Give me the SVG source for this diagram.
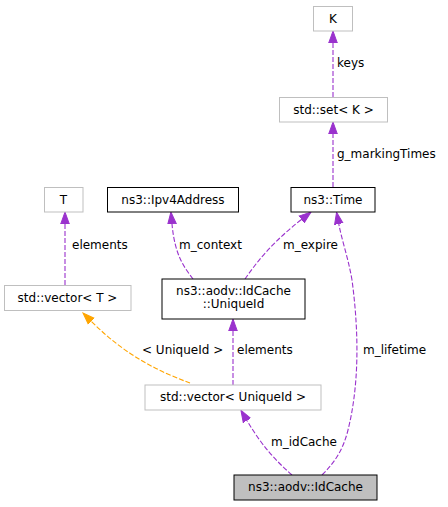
<svg xmlns="http://www.w3.org/2000/svg" width="448" height="507" viewBox="0 0 448 507">
<style>
text{font-family:"DejaVu Sans","Liberation Sans",sans-serif;font-size:12px;fill:#000}
.n text{text-anchor:middle}
.g{fill:#fff;stroke:#bfbfbf;stroke-width:1}
.b{fill:#fff;stroke:#000;stroke-width:1}
.e{fill:none;stroke:#9a32cd;stroke-width:1.1;stroke-dasharray:5,2}
.o{fill:none;stroke:#ffa500;stroke-width:1.1;stroke-dasharray:5,2}
</style>
<defs>
<marker id="ap" markerUnits="userSpaceOnUse" markerWidth="13" markerHeight="10" refX="0" refY="5" orient="auto" viewBox="0 0 13 10"><path d="M0,0.7 L12,5 L0,9.3 z" fill="#9a32cd" stroke="#9a32cd"/></marker>
<marker id="ao" markerUnits="userSpaceOnUse" markerWidth="13" markerHeight="10" refX="0" refY="5" orient="auto" viewBox="0 0 13 10"><path d="M0,0.7 L12,5 L0,9.3 z" fill="#ffa500" stroke="#ffa500"/></marker>
</defs>
<rect width="448" height="507" fill="#fff"/>
<g id="edges">
<path class="e" marker-end="url(#ap)" d="M333,97 L333,43"/>
<path class="e" marker-end="url(#ap)" d="M333,187 L333,134"/>
<path class="e" marker-end="url(#ap)" d="M65,285 L65,224"/>
<path class="e" marker-end="url(#ap)" d="M193,279 C185,268 175,257 172,224"/>
<path class="e" marker-end="url(#ap)" d="M245,279 C258,260 274,241 301.5,219.5"/>
<path class="e" marker-end="url(#ap)" d="M322,475 C335,462 343,450 348,430 C358,390 360,340 352,280 C348,257 342,241 338.8,224"/>
<path class="e" marker-end="url(#ap)" d="M233,385 L233,331"/>
<path class="o" marker-end="url(#ao)" d="M190,383 C160,372 126,356 91.5,321.5"/>
<path class="e" marker-end="url(#ap)" d="M292,475 C275,460 262,446 247,420.5"/>
<text x="337" y="67">keys</text>
<text x="337" y="158">g_markingTimes</text>
<text x="72" y="249">elements</text>
<text x="179" y="249">m_context</text>
<text x="283" y="249">m_expire</text>
<text x="142" y="354">&lt; UniqueId &gt;</text>
<text x="237" y="354">elements</text>
<text x="363" y="354">m_lifetime</text>
<text x="271" y="446">m_idCache</text>
</g>
<g id="K" class="n"><rect class="g" x="313.5" y="6.5" width="39" height="24.5"/><text x="333" y="23">K</text></g>
<g id="stdset" class="n"><rect class="g" x="279.5" y="97.5" width="108" height="24.5"/><text x="333.5" y="114">std::set&lt; K &gt;</text></g>
<g id="Time" class="n"><rect class="b" x="291" y="187.5" width="84" height="24.5"/><text x="333" y="204">ns3::Time</text></g>
<g id="Ipv4Address" class="n"><rect class="b" x="107.5" y="187.5" width="131" height="24.5"/><text x="173" y="204">ns3::Ipv4Address</text></g>
<g id="T" class="n"><rect class="g" x="44.5" y="187.5" width="38.5" height="24.5"/><text x="63.5" y="204">T</text></g>
<g id="vectorT" class="n"><rect class="g" x="4.5" y="285.5" width="126.5" height="25"/><text x="67.5" y="302">std::vector&lt; T &gt;</text></g>
<g id="UniqueId" class="n"><rect class="b" x="162" y="279" width="143" height="40"/><text x="233.5" y="295">ns3::aodv::IdCache</text><text x="233.5" y="308">::UniqueId</text></g>
<g id="vectorUniqueId" class="n"><rect class="g" x="145" y="385" width="176" height="25"/><text x="233" y="401">std::vector&lt; UniqueId &gt;</text></g>
<g id="IdCache" class="n"><rect x="234" y="475" width="143" height="25" fill="#bfbfbf" stroke="#000"/><text x="305.5" y="491">ns3::aodv::IdCache</text></g>
</svg>
